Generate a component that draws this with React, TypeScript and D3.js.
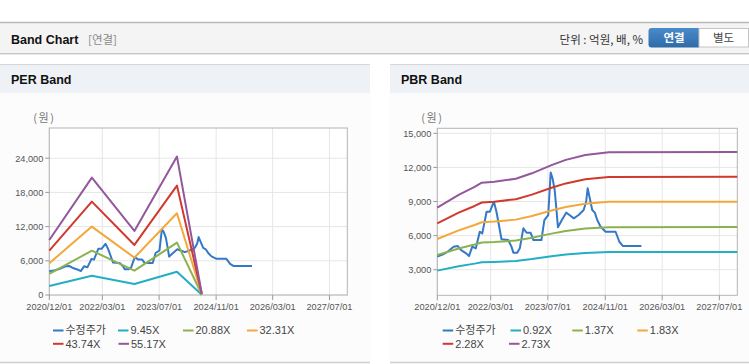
import React from "react";
import * as d3 from "d3";

// ---------------- DATA ----------------
const X_TICKS = ["2020-12-01", "2022-03-01", "2023-07-01", "2024-11-01", "2026-03-01", "2027-07-01"];
const X_DOMAIN = ["2020-12-01", "2027-12-01"];

const PRICE_DATES = [
  "2020-12-01", "2021-01-19", "2021-03-01", "2021-04-19", "2021-05-25", "2021-06-22", "2021-08-04", "2021-08-28",
  "2021-09-25", "2021-10-25", "2021-11-28", "2021-12-19", "2022-01-25", "2022-02-22", "2022-03-28", "2022-04-19",
  "2022-06-01", "2022-07-28", "2022-08-25", "2022-09-10", "2022-10-13", "2022-11-04", "2022-12-04", "2023-01-01",
  "2023-02-04", "2023-02-28", "2023-05-07", "2023-06-01", "2023-07-04", "2023-07-25", "2023-08-10", "2023-08-28",
  "2023-09-10", "2023-09-25", "2023-10-28", "2023-12-04", "2024-01-01", "2024-02-07", "2024-03-19", "2024-05-01",
  "2024-05-22", "2024-06-04", "2024-06-22", "2024-07-13", "2024-08-04", "2024-08-25", "2024-09-22", "2024-11-04",
  "2025-01-28", "2025-03-01", "2025-04-01", "2025-09-05",
];
const PRICE_VALUES = [
  4150, 4350, 4600, 5030, 5080, 4730, 4440, 4200,
  5030, 4880, 6340, 6200, 8100, 8100, 8980, 8100,
  5680, 5610, 5030, 4500, 4500, 4880, 6640, 6250,
  6250, 5610, 5610, 7370, 7810, 11550, 11040, 10010,
  8540, 6730, 7370, 8020, 7810, 7520, 7810, 8250,
  8980, 10160, 9280, 8250, 8020, 7370, 6780, 6340,
  6340, 5460, 5080, 5080,
];

const PER_DATES = ["2020-12-01", "2021-12-01", "2022-12-01", "2023-12-01", "2024-07-01"];
const PER_945 = [1580, 3390, 1930, 4090, 40];
const PER_2088 = [3690, 7780, 4270, 9180, 85];
const PER_3231 = [5570, 12000, 6550, 14350, 130];
const PER_4374 = [7780, 16380, 8780, 19190, 175];
const PER_5517 = [9660, 20600, 11240, 24290, 220];
const PER_LABELS = ["수정주가", "9.45X", "20.88X", "32.31X", "43.74X", "55.17X"];
const PER_Y_TICKS = [0, 6000, 12000, 18000, 24000];
const PER_Y_DOMAIN = [0, 29300];

const PBR_DATES = [
  "2020-12-01", "2021-06-01", "2021-10-15", "2021-12-15", "2022-04-01", "2022-10-01",
  "2023-02-15", "2023-08-01", "2023-12-01", "2024-05-15", "2024-12-01", "2027-12-01",
];
const PBR_092 = [2919, 3301, 3537, 3660, 3688, 3776, 3939, 4181, 4337, 4481, 4561, 4569];
const PBR_137 = [4296, 4864, 5215, 5399, 5441, 5571, 5814, 6174, 6407, 6622, 6741, 6752];
const PBR_183 = [5703, 6462, 6931, 7176, 7233, 7407, 7731, 8212, 8523, 8810, 8970, 8984];
const PBR_228 = [7080, 8026, 8609, 8915, 8986, 9202, 9606, 10205, 10593, 10951, 11149, 11168];
const PBR_273 = [8456, 9589, 10288, 10654, 10738, 10998, 11481, 12199, 12663, 13092, 13329, 13351];
const PBR_LABELS = ["수정주가", "0.92X", "1.37X", "1.83X", "2.28X", "2.73X"];
const PBR_Y_TICKS = [3000, 6000, 9000, 12000, 15000];
const PBR_Y_DOMAIN = [750, 15440];

const COLORS = ["#3478c8", "#22aec4", "#8cb24f", "#f2a83a", "#d0392d", "#93579c"];

// ---------------- HELPERS ----------------
const parse = (s: string) => new Date(s + "T00:00:00Z");
const fmtTick = d3.utcFormat("%Y/%m/%d");
const fmtNum = d3.format(",");
const LATIN = "'Liberation Sans', Arial, 'Noto Sans CJK KR', sans-serif";
const KR = "'Noto Sans CJK KR', 'Liberation Sans', sans-serif";

type Series = { dates: string[]; values: number[]; color: string };

function Chart(props: {
  left: number;
  right: number;
  top: number;
  bottom: number;
  yDomain: number[];
  yTicks: number[];
  series: Series[];
  labels: string[];
  legendX: number[];
}) {
  const { left, right, top, bottom, yDomain, yTicks, series, labels, legendX } = props;
  const x = d3.scaleUtc().domain(X_DOMAIN.map(parse)).range([left, right]);
  const y = d3.scaleLinear().domain(yDomain).range([bottom, top]);
  const line = d3
    .line<[Date, number]>()
    .x((d) => x(d[0]))
    .y((d) => y(d[1]));
  const xt = X_TICKS.map(parse);
  const legendRow = [0, 0, 0, 0, 1, 1];
  const rowY = [330.5, 343.8];
  return (
    <g>
      <rect x={left} y={top} width={right - left} height={bottom - top} fill="#ffffff" />
      {yTicks.map((t) => (
        <line key={"hy" + t} x1={left} x2={right} y1={y(t)} y2={y(t)} stroke="#e6e6e6" strokeWidth={1} />
      ))}
      {xt.map((t, i) => (
        <line key={"vx" + i} x1={x(t)} x2={x(t)} y1={top} y2={bottom} stroke="#e6e6e6" strokeWidth={1} />
      ))}
      <rect x={left} y={top} width={right - left} height={bottom - top} fill="none" stroke="#b4b4b4" strokeWidth={1} />
      {yTicks.map((t) => (
        <g key={"yt" + t}>
          <line x1={left - 4} x2={left} y1={y(t)} y2={y(t)} stroke="#999" />
          <text x={left - 6} y={y(t) + 3.3} textAnchor="end" fontSize={9.2} fill="#555" fontFamily={LATIN}>
            {fmtNum(t)}
          </text>
        </g>
      ))}
      {xt.map((t, i) => (
        <g key={"xt" + i}>
          <line x1={x(t)} x2={x(t)} y1={bottom} y2={bottom + 5} stroke="#999" />
          <text x={x(t)} y={310.3} textAnchor="middle" fontSize={9.2} fill="#555" fontFamily={LATIN}>
            {fmtTick(t)}
          </text>
        </g>
      ))}
      <text x={left - 16} y={121.5} fontSize={11} fill="#777" fontFamily={KR} letterSpacing={1.5}>
        (원)
      </text>
      {series.map((s, i) => (
        <path
          key={"s" + i}
          d={line(s.dates.map((d, j) => [parse(d), s.values[j]] as [Date, number])) || ""}
          fill="none"
          stroke={s.color}
          strokeWidth={2}
          strokeLinejoin="round"
        />
      ))}
      {labels.map((lab, i) => (
        <g key={"lg" + i}>
          <line
            x1={legendX[i]}
            x2={legendX[i] + 10.5}
            y1={rowY[legendRow[i]]}
            y2={rowY[legendRow[i]]}
            stroke={series[i].color}
            strokeWidth={2}
          />
          <text
            x={legendX[i] + 12.5}
            y={rowY[legendRow[i]] + 3.8}
            fontSize={11}
            fill="#444"
            fontFamily={LATIN}
          >
            {lab}
          </text>
        </g>
      ))}
    </g>
  );
}

function Panel(props: { x: number; w: number; title: string; children: React.ReactNode }) {
  const { x, w, title, children } = props;
  return (
    <g>
      <rect x={x} y={64} width={w} height={299} fill="#fcfcfc" />
      <rect x={x} y={64} width={w} height={29} fill="#eef2f7" />
      <line x1={x} x2={x + w} y1={64.5} y2={64.5} stroke="#d6d6d6" />
      <line x1={x} x2={x + w} y1={362.5} y2={362.5} stroke="#cfcfcf" strokeWidth={1.5} />
      <text x={x + 11} y={84} fontSize={12.5} fontWeight="bold" fill="#111" fontFamily={LATIN}>
        {title}
      </text>
      {children}
    </g>
  );
}

export default function App() {
  const perSeries: Series[] = [
    { dates: PRICE_DATES, values: PRICE_VALUES, color: COLORS[0] },
    { dates: PER_DATES, values: PER_945, color: COLORS[1] },
    { dates: PER_DATES, values: PER_2088, color: COLORS[2] },
    { dates: PER_DATES, values: PER_3231, color: COLORS[3] },
    { dates: PER_DATES, values: PER_4374, color: COLORS[4] },
    { dates: PER_DATES, values: PER_5517, color: COLORS[5] },
  ];
  const pbrSeries: Series[] = [
    { dates: PRICE_DATES, values: PRICE_VALUES, color: COLORS[0] },
    { dates: PBR_DATES, values: PBR_092, color: COLORS[1] },
    { dates: PBR_DATES, values: PBR_137, color: COLORS[2] },
    { dates: PBR_DATES, values: PBR_183, color: COLORS[3] },
    { dates: PBR_DATES, values: PBR_228, color: COLORS[4] },
    { dates: PBR_DATES, values: PBR_273, color: COLORS[5] },
  ];
  return (
    <svg
      width={749}
      height={364}
      viewBox="0 0 749 364"
      style={{ position: "absolute", left: 0, top: 0, background: "#ffffff" }}
    >
      <defs>
        <linearGradient id="btn" x1="0" y1="0" x2="0" y2="1">
          <stop offset="0" stopColor="#4a8bcb" />
          <stop offset="1" stopColor="#2f6aa8" />
        </linearGradient>
      </defs>
      {/* header */}
      <rect x={0} y={22} width={749} height={32} fill="#f4f4f4" />
      <line x1={0} x2={749} y1={22.5} y2={22.5} stroke="#b9b9b9" strokeWidth={1.5} />
      <line x1={0} x2={749} y1={53.5} y2={53.5} stroke="#c6c6c6" />
      <line x1={0} x2={749} y1={54.5} y2={54.5} stroke="#e8e8e8" />
      <text x={11} y={44} fontSize={12.5} fontWeight="bold" fill="#111" fontFamily={LATIN}>
        Band Chart
      </text>
      <text x={88} y={43.5} fontSize={11.5} fill="#8a8a8a" fontFamily={KR}>
        [연결]
      </text>
      <text x={643} y={43.5} textAnchor="end" fontSize={11.5} fill="#333" fontFamily={KR}>
        단위 : 억원, 배, %
      </text>
      <path d="M651.5,28 H699 V47.5 H651.5 Q648.5,47.5 648.5,44.5 V31 Q648.5,28 651.5,28 Z" fill="url(#btn)" />
      <text x={674} y={42} textAnchor="middle" fontSize={11.5} fontWeight="bold" fill="#fff" fontFamily={KR}>
        연결
      </text>
      <rect x={699} y={28.5} width={49.5} height={18.5} fill="#ffffff" stroke="#c4c4c4" />
      <text x={723.5} y={42} textAnchor="middle" fontSize={11.5} fill="#444" fontFamily={KR}>
        별도
      </text>

      <Panel x={0} w={370} title="PER Band">
        <Chart
          left={49.3}
          right={347.3}
          top={128}
          bottom={295}
          yDomain={PER_Y_DOMAIN}
          yTicks={PER_Y_TICKS}
          series={perSeries}
          labels={PER_LABELS}
          legendX={[53, 118, 183, 247, 53, 118.5]}
        />
      </Panel>
      <Panel x={390} w={359} title="PBR Band">
        <Chart
          left={437.3}
          right={737.3}
          top={128.3}
          bottom={295.3}
          yDomain={PBR_Y_DOMAIN}
          yTicks={PBR_Y_TICKS}
          series={pbrSeries}
          labels={PBR_LABELS}
          legendX={[442.7, 510.5, 572.3, 637.3, 442.7, 509]}
        />
      </Panel>
    </svg>
  );
}
